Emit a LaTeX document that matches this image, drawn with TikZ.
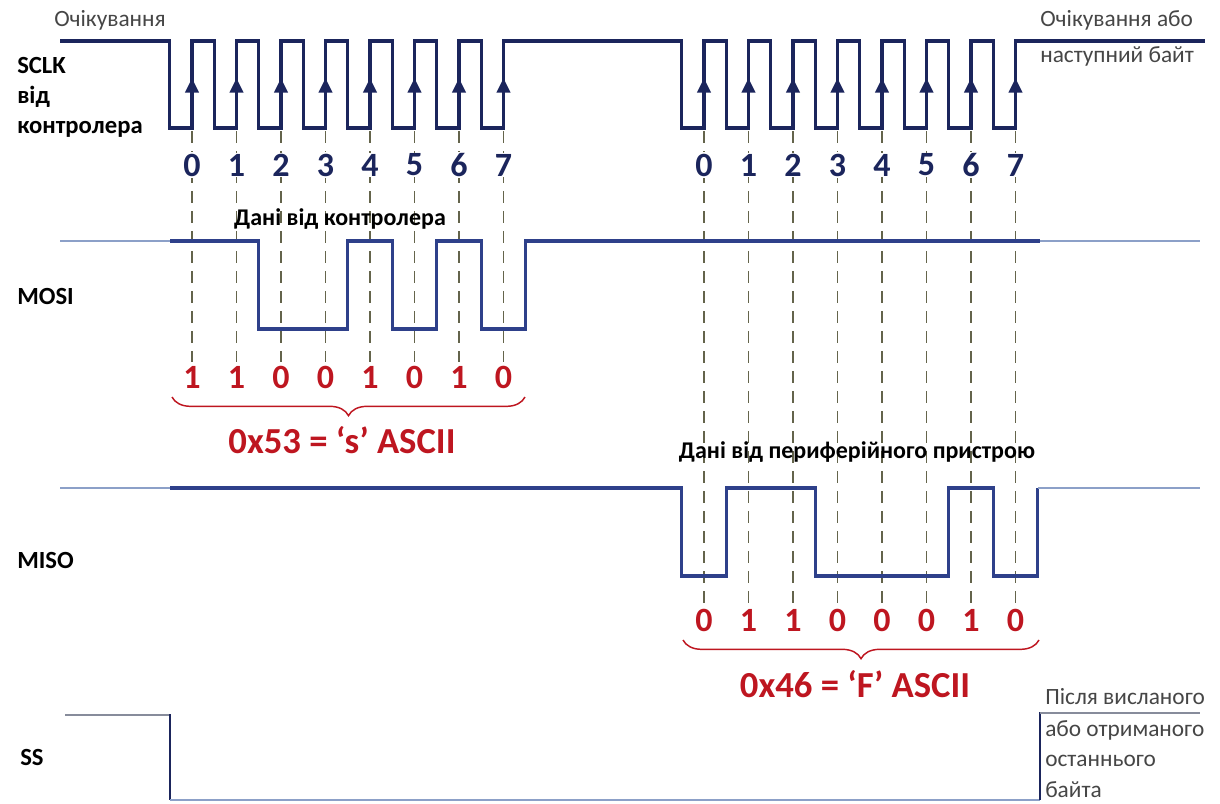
\documentclass[tikz,border=0pt]{standalone}
\usepackage{fontspec}
\setmainfont{Carlito}
\usepackage{xcolor}
\usepackage{tikz}
\usetikzlibrary{arrows.meta, positioning, decorations.pathreplacing}
\definecolor{clknavy}{RGB}{27,37,92}
\definecolor{datnavy}{RGB}{46,64,138}
\definecolor{idleblue}{RGB}{140,160,200}
\definecolor{idlegray}{RGB}{135,140,155}
\definecolor{bitred}{RGB}{190,22,32}
\definecolor{guide}{RGB}{100,100,75}
\definecolor{txtgray}{RGB}{70,70,70}

\begin{document}
\begin{tikzpicture}[
  x=0.75pt, y=-0.75pt,
  clk/.style={draw=clknavy,line width=2.4pt,line join=miter},
  dat/.style={draw=datnavy,line width=2.6pt,line join=miter},
  idle/.style={draw=idleblue,line width=1.2pt},
  ssline/.style={draw=idlegray,line width=2.2pt},
  guideline/.style={draw=guide,line width=0.9pt,dash pattern=on 9pt off 6pt},
  edgearrow/.style={draw=clknavy,line width=2.4pt,-{Triangle[length=11pt,width=10pt]}},
  lbl/.style={font=\fontsize{18.5}{22.5}\selectfont\bfseries,anchor=west,align=left,inner sep=0pt},
  note/.style={font=\fontsize{17.5}{23}\selectfont,text=txtgray,align=left,inner sep=0pt},
  clkno/.style={font=\fontsize{25.5}{30}\selectfont\bfseries,text=clknavy,fill=white,inner sep=1pt},
  bitno/.style={font=\fontsize{25.5}{30}\selectfont\bfseries,text=bitred,inner sep=1pt},
  hexlbl/.style={font=\fontsize{27.5}{32}\selectfont\bfseries,text=bitred},
  head/.style={font=\fontsize{18}{22}\selectfont\bfseries},
  brc/.style={draw=bitred,line width=1.1pt,decorate,decoration={brace,mirror,amplitude=14pt}}
]
\useasboundingbox (0,0) rectangle (1220,803);
% dashed guides at the rising edges
\foreach \i in {0,...,7}{
  \draw[guideline] (192+44.5*\i,131) -- (192+44.5*\i,362);
  \draw[guideline] (704+44.5*\i,131) -- (704+44.5*\i,605);
}
% SCLK
\draw[clk] (60,41) -- (169.75,41)
  \foreach \i in {0,...,7}{ -- ++(0,87) -- ++(22.25,0) -- ++(0,-87) -- ++(22.25,0) }
  -- (681.75,41)
  \foreach \i in {0,...,7}{ -- ++(0,87) -- ++(22.25,0) -- ++(0,-87) -- ++(22.25,0) }
  -- (1205,41);
% MOSI
\draw[idle] (60,241) -- (170,241);
\draw[dat] (170,241) -- (258.75,241) -- (258.75,329) -- (347.75,329) -- (347.75,241)
  -- (392.25,241) -- (392.25,329) -- (436.75,329) -- (436.75,241) -- (481.25,241)
  -- (481.25,329) -- (525.75,329) -- (525.75,241) -- (1040,241);
\draw[idle] (1040,241) -- (1200,241);
% MISO
\draw[idle] (60,488) -- (170,488);
\draw[dat] (170,488) -- (681.75,488) -- (681.75,576) -- (726.25,576) -- (726.25,488)
  -- (815.25,488) -- (815.25,576) -- (948.75,576) -- (948.75,488) -- (993.25,488)
  -- (993.25,576) -- (1037.75,576) -- (1037.75,488);
\draw[idle] (1037.75,488) -- (1200,488);
% SS
\draw[ssline] (65,715) -- (170,715);
\draw[clknavy,line width=2pt] (170,714) -- (170,800);
\draw[idle,line width=1.6pt] (170,800) -- (1040,800);
\draw[clknavy,line width=2pt] (1040,800) -- (1040,712);
\draw[ssline] (1040,713) -- (1200,713);
% bit numbers and sampled values
\foreach \b [count=\i from 0] in {1,1,0,0,1,0,1,0}{
  \draw[edgearrow] (192+44.5*\i,128) -- (192+44.5*\i,78);
  \node[clkno] (na\i) at (192+44.5*\i,165) {\i};
  \node[bitno] (ba\i) at (192+44.5*\i,377) {\b};
}
\foreach \b [count=\i from 0] in {0,1,1,0,0,0,1,0}{
  \draw[edgearrow] (704+44.5*\i,128) -- (704+44.5*\i,78);
  \node[clkno] (nb\i) at (704+44.5*\i,165) {\i};
  \node[bitno] (bb\i) at (704+44.5*\i,620) {\b};
}
\draw[brc] (172,397) -- (525,397);
\draw[brc] (683,640) -- (1039,640);
\node[hexlbl] (hexa) at (342,440) {0x53 = ‘s’ ASCII};
\node[hexlbl] (hexb) at (855,684) {0x46 = ‘F’ ASCII};
\node[head] (heada) at (340,219) {Дані від контролера};
\node[head] (headb) at (857,452) {Дані від периферійного пристрою};
% signal names
\node[lbl] (sclk) at (17,97) {SCLK\\від\\контролера};
\node[lbl] (mosi) at (17,296) {MOSI};
\node[lbl] (miso) at (17,560) {MISO};
\node[lbl] (ss) at (20,757) {SS};
% idle notes
\node[note] (waita) at (110,20) {Очікування};
\node[note,anchor=west] (waitb) at (1040,20) {Очікування або};
\node[note,anchor=west] (waitc) at (1040,56) {наступний байт};
\node[note,anchor=west] (lastb) at (1045,697) {Після висланого};
\node[note,anchor=north west] (lastc) at (1045,720) {або отриманого\\останнього\\байта};
\end{tikzpicture}
\end{document}
